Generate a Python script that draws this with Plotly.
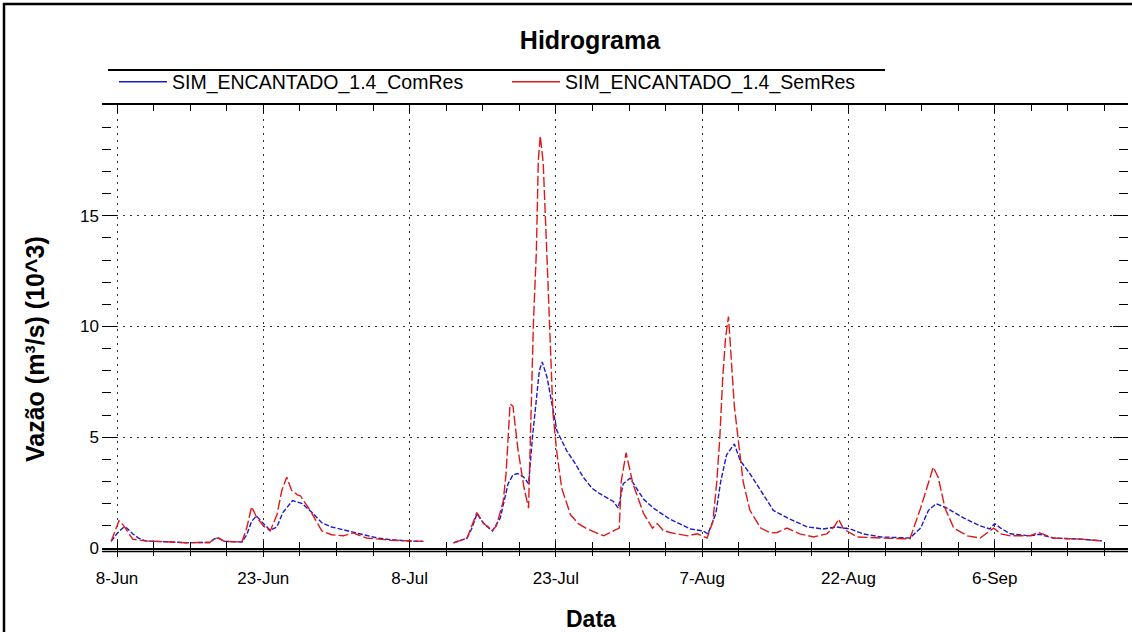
import pandas as pd
import plotly.graph_objects as go

# ---------------- data ----------------
start_date = "2010-06-08"          # day 0 of the offsets below
x_range = ["2010-06-06 11:00", "2010-09-19 16:00"]
y_tickvals = [0, 5, 10, 15]
series_names = ["SIM_ENCANTADO_1.4_ComRes", "SIM_ENCANTADO_1.4_SemRes"]
chart_title = "Hidrograma"
x_title = "Data"
y_title = "Vazão (m³/s) (10^3)"

# day offsets from 8-Jun and flows (10^3 m3/s); None = missing data
com_days = [-0.6, 0.0, 0.7, 1.0, 1.6, 2.2, 2.9, 4.0, 5.0, 7.0, 9.5, 10.0, 10.4, 11.0, 12.8,
            13.3, 13.8, 14.3, 14.8, 15.7, 16.4, 17.0, 18.0, 19.0, 20.0, 21.0, 22.0, 22.9,
            24.6, 26.7, 28.0, 29.7, 31.4, 33.0, 34.5, 35.9, 36.4, 36.9, 37.6, 38.5, 39.3,
            40.1, 40.6, 41.1, 41.7, 42.2, 42.6, 43.0, 43.3, 43.6, 44.1, 44.6, 45.1, 46.1,
            47.0, 47.8, 48.7, 49.5, 50.9, 51.4, 51.9, 52.6, 53.3, 54.0, 55.0, 56.7, 58.8,
            60.1, 60.6, 61.4, 61.9, 62.5, 63.3, 63.9, 64.9, 66.0, 67.3, 69.0, 70.8, 72.4,
            73.8, 75.2, 76.5, 78.3, 81.3, 82.4, 83.2, 84.0, 85.1, 86.8, 88.5, 89.5, 90.0,
            90.6, 91.6, 93.6, 94.6, 96.0, 98.8, 101.0]
com_vals = [0.3, 0.65, 0.95, 0.9, 0.64, 0.45, 0.32, 0.3, 0.25, 0.24, 0.25, 0.42, 0.45, 0.3, 0.27,
            0.6, 1.2, 1.45, 1.2, 0.8, 0.95, 1.6, 2.14, 2.0, 1.6, 1.14, 0.95, 0.86,
            0.68, 0.45, 0.38, 0.32, 0.3, None, 0.23, 0.45, 0.9, 1.55, 1.1, 0.77, 1.36,
            2.9, 3.3, 3.36, 3.2, 2.9, 5.0, 6.8, 8.0, 8.4, 7.7, 6.5, 5.3, 4.4,
            3.8, 3.2, 2.7, 2.45, 2.1, 1.8, 2.9, 3.15, 2.7, 2.2, 1.8, 1.3, 0.86,
            0.77, 0.64, 1.55, 3.0, 4.2, 4.7, 3.95, 3.36, 2.6, 1.7, 1.3, 0.95, 0.86,
            0.95, 0.86, 0.64, 0.5, 0.45, 0.9, 1.7, 2.0, 1.8, 1.36, 1.0, 0.86, 1.1,
            0.9, 0.64, 0.55, 0.62, 0.45, 0.4, 0.32]

sem_days = [-0.6, 0.2, 0.7, 1.6, 2.9, 4.0, 5.0, 7.0, 9.5, 10.0, 10.4, 11.0, 12.8, 13.3, 13.8,
            14.3, 15.0, 15.7, 16.4, 16.9, 17.4, 17.9, 18.5, 18.8, 19.8, 21.0, 22.0, 23.2,
            24.2, 25.6, 28.0, 29.7, 31.4, 33.0, 34.5, 35.9, 36.9, 37.6, 38.5, 38.9, 39.6,
            39.9, 40.3, 40.6, 41.1, 41.7, 42.2, 42.7, 43.0, 43.2, 43.4, 43.7, 44.1, 44.4,
            44.7, 45.1, 45.6, 46.5, 47.3, 48.2, 49.9, 50.9, 51.5, 51.7, 52.2, 52.9, 54.0,
            54.9, 55.4, 56.0, 56.7, 58.5, 59.5, 60.5, 61.1, 61.5, 61.8, 62.1, 62.4, 62.7,
            63.0, 63.3, 63.7, 64.2, 64.9, 66.0, 67.0, 67.7, 68.7, 70.0, 71.4, 72.8, 73.6,
            74.0, 74.5, 75.9, 78.3, 81.3, 82.4, 83.2, 83.7, 84.2, 84.9, 85.8, 87.2, 88.5,
            89.9, 90.6, 91.6, 93.6, 94.5, 96.0, 98.8, 101.0]
sem_vals = [0.3, 1.23, 1.0, 0.4, 0.32, 0.3, 0.25, 0.24, 0.25, 0.42, 0.45, 0.3, 0.27, 0.9, 1.86,
            1.4, 1.0, 0.77, 1.5, 2.6, 3.2, 2.6, 2.4, 2.36, 1.7, 0.77, 0.6, 0.55,
            0.68, 0.45, 0.35, 0.32, 0.3, None, 0.23, 0.45, 1.6, 1.1, 0.8, 1.0, 2.1,
            3.4, 6.5, 6.4, 4.5, 2.8, 1.8, 10.2, 13.4, 17.5, 18.6, 17.4, 13.0, 9.3,
            6.1, 4.3, 2.7, 1.5, 1.1, 0.86, 0.55, 0.77, 0.9, 3.0, 4.3, 2.9, 1.55,
            0.9, 1.1, 0.8, 0.7, 0.55, 0.64, 0.45, 1.2, 3.0, 4.9, 7.6, 9.5, 10.45,
            8.6, 6.4, 4.9, 3.0, 1.7, 0.9, 0.68, 0.7, 0.9, 0.64, 0.5, 0.64, 1.0,
            1.3, 0.86, 0.5, 0.45, 0.41, 1.8, 3.0, 3.65, 3.2, 1.8, 0.9, 0.55, 0.45,
            0.9, 0.64, 0.55, 0.55, 0.7, 0.45, 0.4, 0.32]

# ---------------- styling ----------------
FONT = "Liberation Sans, Arial, sans-serif"
BLUE = "#1a1ad0"
RED = "#e01818"
GRID = "#333333"
DAY_MS = 86400000

base = pd.Timestamp(start_date)


def to_dates(days):
    return [base + pd.Timedelta(days=d) for d in days]


fig = go.Figure()
fig.add_trace(go.Scatter(x=to_dates(com_days), y=com_vals, mode="lines", name=series_names[0],
                         line=dict(color=BLUE, width=1.4, dash="5px,2px"),
                         connectgaps=False, showlegend=False))
fig.add_trace(go.Scatter(x=to_dates(sem_days), y=sem_vals, mode="lines", name=series_names[1],
                         line=dict(color=RED, width=1.4, dash="10px,3px"),
                         connectgaps=False, showlegend=False))
# legend entries (solid line samples as in the original legend)
fig.add_trace(go.Scatter(x=[None], y=[None], mode="lines", name=series_names[0],
                         line=dict(color=BLUE, width=1.4)))
fig.add_trace(go.Scatter(x=[None], y=[None], mode="lines", name=series_names[1],
                         line=dict(color=RED, width=1.4)))
# helper axes: downward half of the crossing x ticks, top axis, right-hand inside y ticks
for xa, ya in (("x2", "y"), ("x3", "y"), ("x", "y2")):
    fig.add_trace(go.Scatter(x=[None], y=[None], xaxis=xa, yaxis=ya, showlegend=False,
                             hoverinfo="skip"))

W, H = 1132, 632
L, R, T, B = 102, 4, 105, 84
pw, ph = W - L - R, H - T - B


def px(xp):
    return (xp - L) / pw


def py(yp):
    return (H - B - yp) / ph


x_ticks = dict(type="date", range=x_range, tick0=start_date, dtick=15 * DAY_MS,
               tickwidth=1.3, tickcolor="black", zeroline=False)
x_minor = dict(tickwidth=1.3, tickcolor="black", tick0=start_date, dtick=3.75 * DAY_MS,
               showgrid=False)

y_ticks = dict(range=[0, 20], tickvals=y_tickvals,
               ticks="inside", ticklen=15, tickwidth=1.3, tickcolor="black",
               minor=dict(ticks="inside", ticklen=9, tickwidth=1.3, tickcolor="black",
                          tick0=0, dtick=1, showgrid=False),
               showline=False, zeroline=False)

fig.update_layout(
    width=W, height=H,
    margin=dict(l=L, r=R, t=T, b=B),
    paper_bgcolor="white", plot_bgcolor="white",
    font=dict(family=FONT, color="black"),
    title=dict(text="<b>" + chart_title + "</b>", font=dict(size=25, family=FONT, color="black"),
               x=590 / W, xanchor="center", xref="container",
               y=1 - 40 / H, yanchor="middle", yref="container"),
    legend=dict(orientation="h", x=px(114), xanchor="left", y=py(82), yanchor="middle",
                font=dict(size=19.5, family=FONT), bgcolor="rgba(0,0,0,0)",
                entrywidth=330, itemwidth=48, tracegroupgap=0),
    xaxis=dict(**x_ticks, tickformat="%-d-%b", ticks="inside", ticklen=7,
               minor=dict(**x_minor, ticks="inside", ticklen=6),
               showline=True, linecolor="black", linewidth=1.5, mirror=False,
               showgrid=True, gridcolor=GRID, gridwidth=1.2, griddash="2px,5px",
               tickfont=dict(size=17, family=FONT), ticklabelstandoff=14),
    xaxis2=dict(**x_ticks, overlaying="x", anchor="y", side="bottom",
                ticks="outside", ticklen=8, showticklabels=False,
                minor=dict(**x_minor, ticks="outside", ticklen=7),
                showline=False, showgrid=False),
    xaxis3=dict(**x_ticks, overlaying="x", anchor="y", side="top",
                ticks="inside", ticklen=8, showticklabels=False,
                minor=dict(**x_minor, ticks="inside", ticklen=6),
                showline=True, linecolor="black", linewidth=1.5, showgrid=False),
    yaxis=dict(**y_ticks, ticktext=[str(v) for v in y_tickvals], mirror=False,
               showgrid=True, gridcolor=GRID, gridwidth=1.2, griddash="2px,5px",
               tickfont=dict(size=17, family=FONT), ticklabelstandoff=2),
    yaxis2=dict(**y_ticks, overlaying="y", anchor="x", side="right",
                showticklabels=False, showgrid=False),
    annotations=[
        dict(text="<b>" + x_title + "</b>", xref="paper", yref="paper", x=px(591), y=py(619),
             xanchor="center", yanchor="middle", showarrow=False,
             font=dict(size=23, family=FONT, color="black")),
        dict(text="<b>" + y_title + "</b>", xref="paper", yref="paper", x=px(35), y=py(349),
             xanchor="center", yanchor="middle", showarrow=False, textangle=-90,
             font=dict(size=25, family=FONT, color="black")),
    ],
    shapes=[
        # second line of the double x-axis line
        dict(type="line", xref="paper", yref="paper", x0=0, x1=1, y0=py(551.5), y1=py(551.5),
             line=dict(color="black", width=1.5)),
        # rule above the legend
        dict(type="line", xref="paper", yref="paper", x0=px(108), x1=px(885), y0=py(70), y1=py(70),
             line=dict(color="black", width=1.8)),
        # outer frame (left and top edges), kept inside the page
        dict(type="line", xref="paper", yref="paper", x0=px(4), x1=px(4), y0=py(3), y1=py(H),
             line=dict(color="black", width=2.5)),
        dict(type="line", xref="paper", yref="paper", x0=px(3), x1=px(W), y0=py(4), y1=py(4),
             line=dict(color="black", width=2.5)),
    ],
)

fig.write_html("out.html")
